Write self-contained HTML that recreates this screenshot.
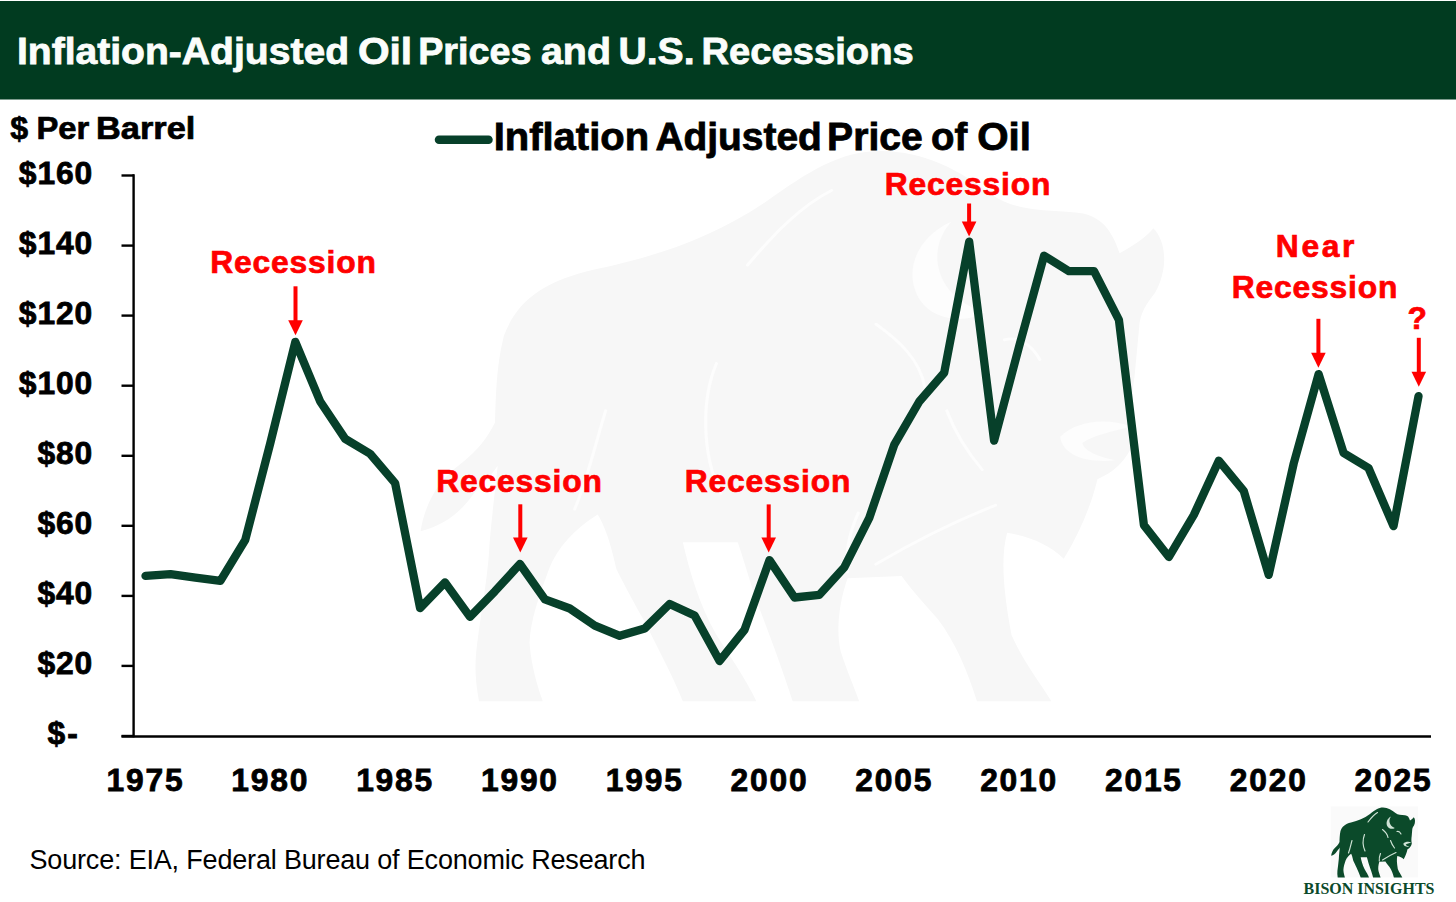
<!DOCTYPE html>
<html><head><meta charset="utf-8"><style>
html,body{margin:0;padding:0;background:#fff;}
svg{display:block;}
text{font-family:"Liberation Sans",sans-serif;}
.ax{font-weight:bold;font-size:31.8px;fill:#000;stroke:#000;stroke-width:0.8px;}
.yr{letter-spacing:1.8px;}
.rec{font-weight:bold;font-size:31.8px;letter-spacing:0.8px;fill:#ff0000;stroke:#ff0000;stroke-width:0.7px;}
</style></head><body>
<svg width="1456" height="902" viewBox="0 0 1456 902">
<rect x="0" y="0" width="1456" height="902" fill="#fff"/>
<rect x="0" y="1" width="1456" height="98.5" fill="#013b20"/>
<text x="16.92" y="63.6" font-size="37.6" font-weight="bold" fill="#fbfdfb" stroke="#fbfdfb" stroke-width="0.8" textLength="332.11" lengthAdjust="spacingAndGlyphs">Inflation-Adjusted</text><text x="357.92" y="63.6" font-size="37.6" font-weight="bold" fill="#fbfdfb" stroke="#fbfdfb" stroke-width="0.8" textLength="54.22" lengthAdjust="spacingAndGlyphs">Oil</text><text x="418.19" y="63.6" font-size="37.6" font-weight="bold" fill="#fbfdfb" stroke="#fbfdfb" stroke-width="0.8" textLength="113.21" lengthAdjust="spacingAndGlyphs">Prices</text><text x="540.95" y="63.6" font-size="37.6" font-weight="bold" fill="#fbfdfb" stroke="#fbfdfb" stroke-width="0.8" textLength="70.10" lengthAdjust="spacingAndGlyphs">and</text><text x="618.42" y="63.6" font-size="37.6" font-weight="bold" fill="#fbfdfb" stroke="#fbfdfb" stroke-width="0.8" textLength="76.13" lengthAdjust="spacingAndGlyphs">U.S.</text><text x="701.57" y="63.6" font-size="37.6" font-weight="bold" fill="#fbfdfb" stroke="#fbfdfb" stroke-width="0.8" textLength="212.14" lengthAdjust="spacingAndGlyphs">Recessions</text>
<!-- watermark bison -->
<g transform="translate(366.5,92) scale(8.86,7.87)">
<path d="M6.1,55.8 C6.6,52.5 7.8,50 9.8,48 C11.5,46.5 13.2,45 14.5,42 C14.6,39 14.6,35 15.5,31 C17,26.5 20,24 26,22.5 C33,20.8 39,18.5 45,14 C50,10 53.5,7.5 58,7.5 C63,7.5 67,10 70.5,13 C73,15 76,15 80,15.3 C82.5,15.5 84,17 85,20.5 C86.5,19.5 88,18.5 88.8,17.3 C90.3,19 90.5,22.5 89,25.5 C88,27 87.3,28 87.2,30 L86.7,36 C86.3,39 86.3,41 86.8,43.5 C86.3,46 85,48 82.5,49.2 C81.8,52.5 80.5,56 78.7,59.3 C77,57.5 75,56.5 72.3,56 C71.6,59 71.8,63 72.8,69 C74.2,72.5 76,75 77.3,77.4 L68.9,77.4 C67.8,73.5 66.5,70 64.5,67 C62.5,64.5 61,62.5 60.4,61.5 L54.3,61.8 C53.3,65 53,68.5 53.5,71 C54.2,73.5 55,75.5 55.6,77.4 L48.1,77.4 C47,73.5 45.5,69 43.8,64 C43,61 42.3,58.5 41.9,57.2 L35.7,57.2 C36.5,61 37.5,65 39.5,69 C41.5,72.5 43,75 44,77.4 L35.7,77.4 C34.5,74 33,71 31.5,67.5 C30,64.5 28.8,62 28.2,60.6 C27.5,57 26.8,55 26.1,53.7 C23.5,55.5 21.5,58 20.6,60.6 C19.5,64 18.5,67 18.4,70 C18.6,73 19.3,75.5 19.9,77.4 L12.7,77.4 C12.3,75 12.2,73 12.4,71 C12.8,67 13.5,63 13.8,59 C14,55 14.5,51 14.8,47.5 C13.8,49.2 12.8,50 11.8,51.5 C10.5,53.5 8.5,55.2 6.1,55.8 Z" fill="#f7f7f7"/>
<path d="M66,16.5 C62,18.5 60.5,23 62.5,26.5 C64,29 67.5,29.5 69.8,28 C67,27 65,25 64.5,22 C64.2,20 64.8,18 66,16.5 Z" fill="#fdfdfd"/>
<path d="M86.3,42.5 C83.5,41.3 80,41.8 78.3,43.8 C78.5,46 81,47.2 84.5,46.8 C82.5,46.3 81,45.6 80.8,44.6 C82,43.6 84,43.2 86.3,42.5 Z" fill="#fdfdfd"/>
<path d="M43,22 C46,18 49,14.5 52.5,12.5" fill="none" stroke="#fdfdfd" stroke-width="0.35" stroke-linecap="round"/>
<path d="M39.5,34.5 C37.8,39 37.8,46 40,51" fill="none" stroke="#fdfdfd" stroke-width="0.35" stroke-linecap="round"/>
<path d="M27,40.5 C26,44 25,49 23.5,53" fill="none" stroke="#fdfdfd" stroke-width="0.35" stroke-linecap="round"/>
<path d="M57.5,29.5 C60,31.5 62.5,34 63,37.5" fill="none" stroke="#fdfdfd" stroke-width="0.35" stroke-linecap="round"/>
<path d="M72,31.5 C73.5,31 75,32 76,34" fill="none" stroke="#fdfdfd" stroke-width="0.35" stroke-linecap="round"/>
<path d="M65.5,40.5 C66.5,43.5 68,46 69.5,48" fill="none" stroke="#fdfdfd" stroke-width="0.35" stroke-linecap="round"/>
<path d="M57.5,60 C62,57 66.5,54.5 71,52.5" fill="none" stroke="#fdfdfd" stroke-width="0.35" stroke-linecap="round"/>
<path d="M55.5,53.5 C54.5,56 54,58.5 54.3,61" fill="none" stroke="#fdfdfd" stroke-width="0.35" stroke-linecap="round"/>
</g>
<text x="10.30" y="138.95" font-size="31.8" font-weight="bold" fill="#000" stroke="#000" stroke-width="0.7" textLength="17.88" lengthAdjust="spacingAndGlyphs">$</text><text x="36.44" y="138.95" font-size="31.8" font-weight="bold" fill="#000" stroke="#000" stroke-width="0.7" textLength="52.85" lengthAdjust="spacingAndGlyphs">Per</text><text x="96.04" y="138.95" font-size="31.8" font-weight="bold" fill="#000" stroke="#000" stroke-width="0.7" textLength="99.24" lengthAdjust="spacingAndGlyphs">Barrel</text>
<line x1="439" y1="139.7" x2="488.5" y2="139.7" stroke="#07402a" stroke-width="8.5" stroke-linecap="round"/>
<text x="493.69" y="150.2" font-size="37.9" font-weight="bold" fill="#000" stroke="#000" stroke-width="0.8" textLength="155.37" lengthAdjust="spacingAndGlyphs">Inflation</text><text x="655.40" y="150.2" font-size="37.9" font-weight="bold" fill="#000" stroke="#000" stroke-width="0.8" textLength="166.50" lengthAdjust="spacingAndGlyphs">Adjusted</text><text x="827.14" y="150.2" font-size="37.9" font-weight="bold" fill="#000" stroke="#000" stroke-width="0.8" textLength="95.57" lengthAdjust="spacingAndGlyphs">Price</text><text x="931.09" y="150.2" font-size="37.9" font-weight="bold" fill="#000" stroke="#000" stroke-width="0.8" textLength="36.23" lengthAdjust="spacingAndGlyphs">of</text><text x="977.24" y="150.2" font-size="37.9" font-weight="bold" fill="#000" stroke="#000" stroke-width="0.8" textLength="53.75" lengthAdjust="spacingAndGlyphs">Oil</text>
<text x="47.5" y="744.3" class="ax" letter-spacing="2">$-</text><text x="93.2" y="674.2" class="ax" text-anchor="end" letter-spacing="0.9">$20</text><text x="93.2" y="604.2" class="ax" text-anchor="end" letter-spacing="0.9">$40</text><text x="93.2" y="534.1" class="ax" text-anchor="end" letter-spacing="0.9">$60</text><text x="93.2" y="464.1" class="ax" text-anchor="end" letter-spacing="0.9">$80</text><text x="93.2" y="394.0" class="ax" text-anchor="end" letter-spacing="0.9">$100</text><text x="93.2" y="323.9" class="ax" text-anchor="end" letter-spacing="0.9">$120</text><text x="93.2" y="253.9" class="ax" text-anchor="end" letter-spacing="0.9">$140</text><text x="93.2" y="183.8" class="ax" text-anchor="end" letter-spacing="0.9">$160</text>
<g stroke="#000" stroke-width="2.4" fill="none">
<line x1="133.6" y1="174.2" x2="133.6" y2="737.3"/>
<line x1="121.5" y1="736.5" x2="1431" y2="736.5"/>
<line x1="121.5" y1="736.0" x2="134" y2="736.0"/><line x1="121.5" y1="665.9" x2="134" y2="665.9"/><line x1="121.5" y1="595.9" x2="134" y2="595.9"/><line x1="121.5" y1="525.8" x2="134" y2="525.8"/><line x1="121.5" y1="455.8" x2="134" y2="455.8"/><line x1="121.5" y1="385.7" x2="134" y2="385.7"/><line x1="121.5" y1="315.6" x2="134" y2="315.6"/><line x1="121.5" y1="245.6" x2="134" y2="245.6"/><line x1="121.5" y1="175.5" x2="134" y2="175.5"/>
</g>
<text x="145.5" y="790.9" class="ax yr" text-anchor="middle">1975</text><text x="270.3" y="790.9" class="ax yr" text-anchor="middle">1980</text><text x="395.1" y="790.9" class="ax yr" text-anchor="middle">1985</text><text x="519.9" y="790.9" class="ax yr" text-anchor="middle">1990</text><text x="644.7" y="790.9" class="ax yr" text-anchor="middle">1995</text><text x="769.5" y="790.9" class="ax yr" text-anchor="middle">2000</text><text x="894.3" y="790.9" class="ax yr" text-anchor="middle">2005</text><text x="1019.1" y="790.9" class="ax yr" text-anchor="middle">2010</text><text x="1143.9" y="790.9" class="ax yr" text-anchor="middle">2015</text><text x="1268.7" y="790.9" class="ax yr" text-anchor="middle">2020</text><text x="1393.5" y="790.9" class="ax yr" text-anchor="middle">2025</text>
<polyline points="145.5,575.9 170.5,574.2 195.4,577.7 220.4,580.8 245.3,539.8 270.3,443.1 295.3,341.9 320.2,401.5 345.2,438.9 370.1,453.7 395.1,483.1 420.1,608.1 445.0,582.4 470.0,616.9 494.9,591.3 519.9,564.0 544.9,599.4 569.8,608.5 594.8,625.7 619.7,635.8 644.7,628.5 669.7,603.9 694.6,615.5 719.6,661.0 744.5,629.9 769.5,560.1 794.5,597.5 819.4,594.8 844.4,567.2 869.3,517.8 894.3,444.6 919.3,401.5 944.2,372.7 969.2,241.7 994.1,440.7 1019.1,346.5 1044.1,255.7 1069.0,271.2 1094.0,271.2 1118.9,319.8 1143.9,525.1 1168.9,557.0 1193.8,515.0 1218.8,460.7 1243.7,490.8 1268.7,574.9 1293.7,463.5 1318.6,374.1 1343.6,453.0 1368.5,468.0 1393.5,526.2 1418.5,396.2" fill="none" stroke="#07402a" stroke-width="8.3" stroke-linejoin="round" stroke-linecap="round"/>
<text x="293.5" y="273.0" class="rec" text-anchor="middle">Recession</text>
<line x1="295.5" y1="286.3" x2="295.5" y2="321.3" stroke="#ff0000" stroke-width="4"/><path d="M288.2,320.3 L302.8,320.3 L295.5,335.3 Z" fill="#ff0000"/>
<text x="519.5" y="491.5" class="rec" text-anchor="middle">Recession</text>
<line x1="520.3" y1="504.3" x2="520.3" y2="538.6" stroke="#ff0000" stroke-width="4"/><path d="M513.0,537.6 L527.5999999999999,537.6 L520.3,552.6 Z" fill="#ff0000"/>
<text x="768" y="491.6" class="rec" text-anchor="middle">Recession</text>
<line x1="768.7" y1="504.4" x2="768.7" y2="538.5" stroke="#ff0000" stroke-width="4"/><path d="M761.4000000000001,537.5 L776.0,537.5 L768.7,552.5 Z" fill="#ff0000"/>
<text x="968" y="194.6" class="rec" text-anchor="middle">Recession</text>
<line x1="969.1" y1="203.5" x2="969.1" y2="222.5" stroke="#ff0000" stroke-width="4"/><path d="M961.8000000000001,221.5 L976.4,221.5 L969.1,236.5 Z" fill="#ff0000"/>
<text x="1316.4" y="256.5" class="rec" text-anchor="middle" style="letter-spacing:2.6px">Near</text>
<text x="1315" y="298.4" class="rec" text-anchor="middle">Recession</text>
<line x1="1318.4" y1="318.8" x2="1318.4" y2="353.7" stroke="#ff0000" stroke-width="4"/><path d="M1311.1000000000001,352.7 L1325.7,352.7 L1318.4,367.7 Z" fill="#ff0000"/>
<text x="1417.5" y="329.0" class="rec" text-anchor="middle">?</text>
<line x1="1418.8" y1="337.8" x2="1418.8" y2="372.7" stroke="#ff0000" stroke-width="4"/><path d="M1411.5,371.7 L1426.1,371.7 L1418.8,386.7 Z" fill="#ff0000"/>
<text x="29.5" y="868.7" font-size="27" fill="#000" textLength="616" lengthAdjust="spacing">Source: EIA, Federal Bureau of Economic Research</text>
<!-- logo -->
<rect x="1330.7" y="806.4" width="87.3" height="71" fill="#fafafa"/>
<g transform="translate(1325,800)">
<path d="M6.1,55.8 C6.6,52.5 7.8,50 9.8,48 C11.5,46.5 13.2,45 14.5,42 C14.6,39 14.6,35 15.5,31 C17,26.5 20,24 26,22.5 C33,20.8 39,18.5 45,14 C50,10 53.5,7.5 58,7.5 C63,7.5 67,10 70.5,13 C73,15 76,15 80,15.3 C82.5,15.5 84,17 85,20.5 C86.5,19.5 88,18.5 88.8,17.3 C90.3,19 90.5,22.5 89,25.5 C88,27 87.3,28 87.2,30 L86.7,36 C86.3,39 86.3,41 86.8,43.5 C86.3,46 85,48 82.5,49.2 C81.8,52.5 80.5,56 78.7,59.3 C77,57.5 75,56.5 72.3,56 C71.6,59 71.8,63 72.8,69 C74.2,72.5 76,75 77.3,77.4 L68.9,77.4 C67.8,73.5 66.5,70 64.5,67 C62.5,64.5 61,62.5 60.4,61.5 L54.3,61.8 C53.3,65 53,68.5 53.5,71 C54.2,73.5 55,75.5 55.6,77.4 L48.1,77.4 C47,73.5 45.5,69 43.8,64 C43,61 42.3,58.5 41.9,57.2 L35.7,57.2 C36.5,61 37.5,65 39.5,69 C41.5,72.5 43,75 44,77.4 L35.7,77.4 C34.5,74 33,71 31.5,67.5 C30,64.5 28.8,62 28.2,60.6 C27.5,57 26.8,55 26.1,53.7 C23.5,55.5 21.5,58 20.6,60.6 C19.5,64 18.5,67 18.4,70 C18.6,73 19.3,75.5 19.9,77.4 L12.7,77.4 C12.3,75 12.2,73 12.4,71 C12.8,67 13.5,63 13.8,59 C14,55 14.5,51 14.8,47.5 C13.8,49.2 12.8,50 11.8,51.5 C10.5,53.5 8.5,55.2 6.1,55.8 Z" fill="#0b4a2a"/>
<path d="M66,16.5 C62,18.5 60.5,23 62.5,26.5 C64,29 67.5,29.5 69.8,28 C67,27 65,25 64.5,22 C64.2,20 64.8,18 66,16.5 Z" fill="#cfe3d6"/>
<path d="M86.3,42.5 C83.5,41.3 80,41.8 78.3,43.8 C78.5,46 81,47.2 84.5,46.8 C82.5,46.3 81,45.6 80.8,44.6 C82,43.6 84,43.2 86.3,42.5 Z" fill="#cfe3d6"/>
<path d="M43,22 C46,18 49,14.5 52.5,12.5" fill="none" stroke="#cfe3d6" stroke-width="1.15" stroke-linecap="round"/>
<path d="M39.5,34.5 C37.8,39 37.8,46 40,51" fill="none" stroke="#cfe3d6" stroke-width="1.15" stroke-linecap="round"/>
<path d="M27,40.5 C26,44 25,49 23.5,53" fill="none" stroke="#cfe3d6" stroke-width="1.15" stroke-linecap="round"/>
<path d="M57.5,29.5 C60,31.5 62.5,34 63,37.5" fill="none" stroke="#cfe3d6" stroke-width="1.15" stroke-linecap="round"/>
<path d="M72,31.5 C73.5,31 75,32 76,34" fill="none" stroke="#cfe3d6" stroke-width="1.15" stroke-linecap="round"/>
<path d="M65.5,40.5 C66.5,43.5 68,46 69.5,48" fill="none" stroke="#cfe3d6" stroke-width="1.15" stroke-linecap="round"/>
<path d="M57.5,60 C62,57 66.5,54.5 71,52.5" fill="none" stroke="#cfe3d6" stroke-width="1.15" stroke-linecap="round"/>
<path d="M55.5,53.5 C54.5,56 54,58.5 54.3,61" fill="none" stroke="#cfe3d6" stroke-width="1.15" stroke-linecap="round"/>
</g>
<text x="1303.5" y="893.6" style="font-family:'Liberation Serif',serif" font-size="16.6" font-weight="bold" fill="#0b4a2a" textLength="131" lengthAdjust="spacingAndGlyphs">BISON INSIGHTS</text>
</svg>
</body></html>
